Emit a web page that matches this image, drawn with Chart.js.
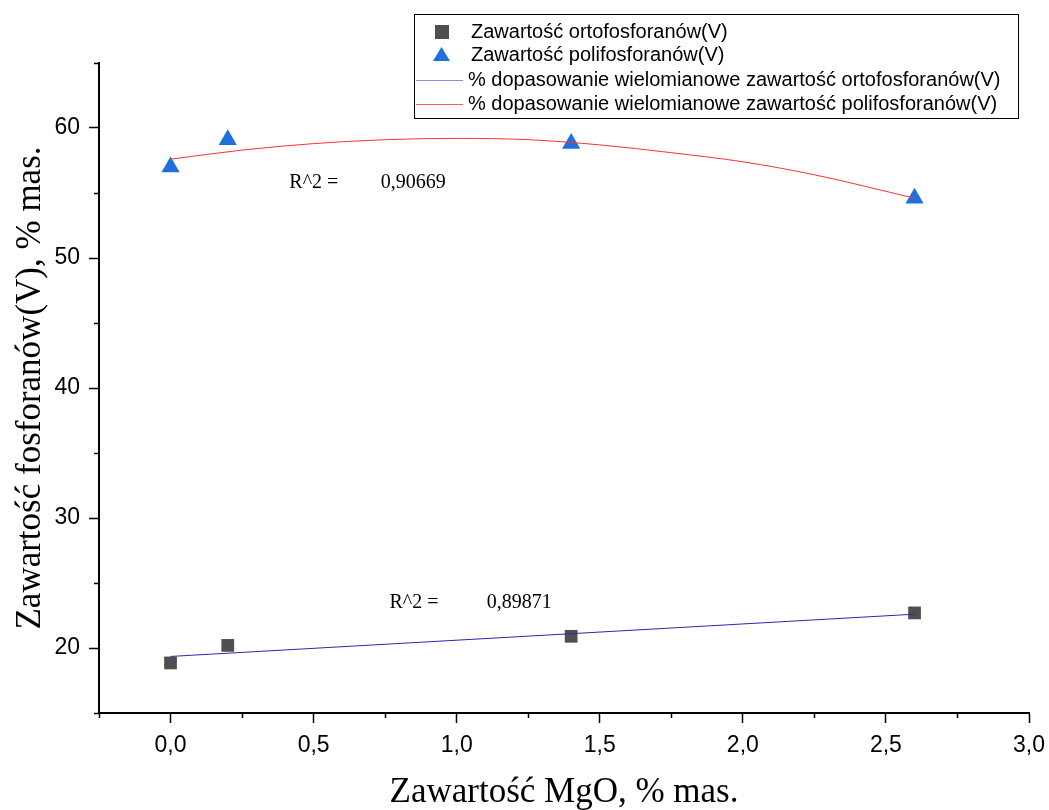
<!DOCTYPE html>
<html>
<head>
<meta charset="utf-8">
<script src="https://cdn.jsdelivr.net/npm/chart.js@4.4.0/dist/chart.umd.min.js"></script>
<style>
  html, body { margin: 0; padding: 0; background: #fff; }
  #wrap { width: 1049px; height: 810px; }
</style>
</head>
<body>
<div id="wrap"><canvas id="chart"></canvas></div>
<script>
// measured points
var mgo = [0, 0.2, 1.4, 2.6];
var orto = [18.85, 20.2, 20.9, 22.7];
var poli = [57.0, 59.1, 58.8, 54.6];

// fitted curves
var fitOrtoX = [0, 1.4, 2.6];
var fitOrtoY = [19.35, 21.1, 22.6];
var fitPoliX = [0, 0.25, 0.5, 0.75, 1.0, 1.25, 1.5, 1.75, 2.0, 2.25, 2.6];
var fitPoliY = [57.6, 58.3, 58.8, 59.1, 59.2, 59.1, 58.7, 58.1, 57.4, 56.4, 54.6];

var legendLabels = [
    "Zawartość ortofosforanów(V)",
    "Zawartość polifosforanów(V)",
    "% dopasowanie wielomianowe zawartość ortofosforanów(V)",
    "% dopasowanie wielomianowe zawartość polifosforanów(V)"
];
var r2Labels = ["0,90669", "0,89871"];

function pts(xs, ys) {
    return xs.map(function (x, i) { return { x: x, y: ys[i] }; });
}

var sans = "'Liberation Sans', Arial, sans-serif";
var serif = "'Liberation Serif', 'Times New Roman', serif";

// minor ticks, R^2 notes and the boxed legend
var extras = {
    id: 'extras',
    afterDraw: function (chart) {
        var c = chart.ctx;
        var xs = chart.scales.x, ys = chart.scales.y;
        c.save();
        c.strokeStyle = '#000';
        c.lineWidth = 1.5;
        // minor ticks
        for (var v = -0.25; v <= 3.001; v += 0.5) {
            var px = Math.round(xs.getPixelForValue(v)) + 0.5;
            c.beginPath(); c.moveTo(px, ys.bottom); c.lineTo(px, ys.bottom + 5); c.stroke();
        }
        for (var w = 15; w <= 65; w += 10) {
            var py = Math.round(ys.getPixelForValue(w)) + 0.5;
            c.beginPath(); c.moveTo(xs.left, py); c.lineTo(xs.left - 5, py); c.stroke();
        }

        // R^2 notes
        c.fillStyle = '#000';
        c.font = '20px ' + serif;
        c.textBaseline = 'middle';
        c.fillText('R^2 =', xs.getPixelForValue(0.415), ys.getPixelForValue(55.8));
        c.fillText(r2Labels[0], xs.getPixelForValue(0.735), ys.getPixelForValue(55.8));
        c.fillText('R^2 =', xs.getPixelForValue(0.765), ys.getPixelForValue(23.5));
        c.fillText(r2Labels[1], xs.getPixelForValue(1.105), ys.getPixelForValue(23.5));

        // legend
        var lx = 414, ly = 14, lw = 604, lh = 104;
        c.lineWidth = 1;
        c.strokeStyle = '#000';
        c.strokeRect(lx + 0.5, ly + 0.5, lw, lh);
        c.font = '20px ' + sans;
        var rows = [32, 55, 80, 104];
        // square
        c.fillStyle = '#4f4f4f';
        c.fillRect(435, rows[0] - 7, 14, 14);
        // triangle
        c.fillStyle = '#1f6fdc';
        c.beginPath();
        c.moveTo(441.5, rows[1] - 8); c.lineTo(450, rows[1] + 6); c.lineTo(433, rows[1] + 6);
        c.closePath(); c.fill();
        // lines
        c.lineWidth = 1.2;
        c.strokeStyle = '#8a8ad6';
        c.beginPath(); c.moveTo(416, rows[2] + 0.5); c.lineTo(463, rows[2] + 0.5); c.stroke();
        c.strokeStyle = '#ff5a5a';
        c.beginPath(); c.moveTo(416, rows[3] + 0.5); c.lineTo(463, rows[3] + 0.5); c.stroke();
        c.fillStyle = '#000';
        for (var i = 0; i < legendLabels.length; i++) {
            c.fillText(legendLabels[i], i < 2 ? 471 : 468, rows[i]);
        }
        c.restore();
    }
};

var ctx = document.getElementById('chart');

var chartData = {
    datasets: [
        {
            label: legendLabels[2],
            data: pts(fitOrtoX, fitOrtoY),
            showLine: true,
            borderColor: '#2a2aa8',
            borderWidth: 1,
            pointRadius: 0,
            tension: 0
        },
        {
            label: legendLabels[3],
            data: pts(fitPoliX, fitPoliY),
            showLine: true,
            borderColor: '#ff3030',
            borderWidth: 1,
            pointRadius: 0,
            cubicInterpolationMode: 'monotone'
        },
        {
            label: legendLabels[0],
            data: pts(mgo, orto),
            pointStyle: 'rect',
            pointRadius: 9,
            backgroundColor: '#4f4f4f',
            borderColor: '#4f4f4f',
            borderWidth: 0
        },
        {
            label: legendLabels[1],
            data: pts(mgo, poli),
            pointStyle: 'triangle',
            pointRadius: 10.5,
            backgroundColor: '#1f6fdc',
            borderColor: '#1f6fdc',
            borderWidth: 0
        }
    ]
};

var chartOptions = {
    responsive: true,
    maintainAspectRatio: false,
    animation: false,
    layout: { padding: { top: 63, right: 20, left: 0, bottom: 0 } },
    plugins: {
        legend: { display: false },
        tooltip: { enabled: false }
    },
    scales: {
        x: {
            type: 'linear',
            min: -0.25,
            max: 3.0,
            afterFit: function (s) { s.height = 97; s.paddingRight = 0; s.paddingLeft = 0; },
            afterBuildTicks: function (s) {
                s.ticks = [0, 0.5, 1, 1.5, 2, 2.5, 3].map(function (v) { return { value: v }; });
            },
            border: { display: true, color: '#000', width: 2 },
            grid: { display: true, drawOnChartArea: false, drawTicks: true, tickLength: 10, tickWidth: 1.5, tickColor: '#000' },
            ticks: {
                color: '#000',
                padding: 9,
                maxRotation: 0,
                font: { family: sans, size: 23 },
                callback: function (v) { return v.toFixed(1).replace('.', ','); }
            },
            title: {
                display: true,
                text: 'Zawartość MgO, % mas.',
                color: '#000',
                font: { family: serif, size: 35, lineHeight: 1.0 },
                padding: { top: 0, bottom: 0 }
            }
        },
        y: {
            type: 'linear',
            min: 15,
            max: 65,
            afterFit: function (s) { s.width = 99; },
            afterBuildTicks: function (s) {
                s.ticks = [20, 30, 40, 50, 60].map(function (v) { return { value: v }; });
            },
            border: { display: true, color: '#000', width: 2 },
            grid: { display: true, drawOnChartArea: false, drawTicks: true, tickLength: 10, tickWidth: 1.5, tickColor: '#000' },
            ticks: {
                color: '#000',
                padding: 9,
                font: { family: sans, size: 23 }
            },
            title: {
                display: true,
                text: 'Zawartość fosforanów(V), % mas.',
                color: '#000',
                font: { family: serif, size: 35 },
                padding: { top: 10, bottom: 0 }
            }
        }
    }
};

var config = {
    type: 'scatter',
    data: chartData,
    options: chartOptions,
    plugins: [extras]
};

var scatterChart = new Chart(ctx, config);
</script>
</body>
</html>
